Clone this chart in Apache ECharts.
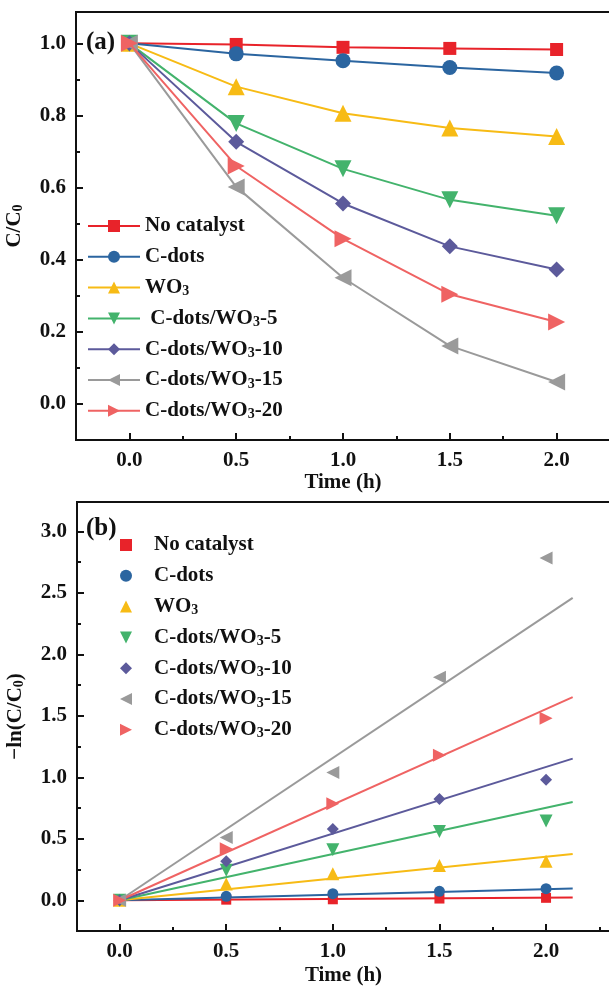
<!DOCTYPE html>
<html>
<head>
<meta charset="utf-8">
<script src="https://cdn.jsdelivr.net/npm/echarts@6/dist/echarts.min.js"></script>
<style>
  html, body { margin: 0; padding: 0; background: #fff; }
  #main { width: 609px; height: 986px; }
</style>
</head>
<body>
<div id="main"></div>
<script>
// sampling times (h)
const times = [0, 0.5, 1.0, 1.5, 2.0];

const seriesNames = ['No catalyst', 'C-dots', 'WO3', 'C-dots/WO3-5', 'C-dots/WO3-10', 'C-dots/WO3-15', 'C-dots/WO3-20'];
const legendLabelsA = ['No catalyst', 'C-dots', 'WO3', ' C-dots/WO3-5', 'C-dots/WO3-10', 'C-dots/WO3-15', 'C-dots/WO3-20'];
const colors = ['#e8232a', '#2b65a0', '#f7bb15', '#43b36c', '#5c5a9b', '#9a9a9a', '#ef6363'];

// panel (a): C/C0
const ratioNoCatalyst = [1.0, 0.997, 0.989, 0.986, 0.983];
const ratioCdots = [1.0, 0.971, 0.952, 0.933, 0.918];
const ratioWO3 = [1.0, 0.880, 0.806, 0.765, 0.742];
const ratioCW5 = [1.0, 0.778, 0.652, 0.566, 0.522];
const ratioCW10 = [1.0, 0.727, 0.556, 0.437, 0.373];
const ratioCW15 = [1.0, 0.602, 0.350, 0.161, 0.061];
const ratioCW20 = [1.0, 0.660, 0.458, 0.304, 0.227];

// panel (b): -ln(C/C0)
const lnNoCatalyst = [0, 0.005, 0.008, 0.014, 0.020];
const lnCdots = [0, 0.032, 0.054, 0.073, 0.094];
const lnWO3 = [0, 0.132, 0.216, 0.282, 0.318];
const lnCW5 = [0, 0.245, 0.412, 0.560, 0.645];
const lnCW10 = [0, 0.318, 0.580, 0.823, 0.980];
const lnCW15 = [0, 0.510, 1.040, 1.815, 2.785];
const lnCW20 = [0, 0.420, 0.785, 1.180, 1.480];

// linear fits through origin: end point of each line
const fitEndX = 2.125;
const fitEndY = [0.022, 0.096, 0.377, 0.800, 1.152, 2.460, 1.653];

// ticks
const xLabelsA = [0, 0.5, 1.0, 1.5, 2.0];
const xMinorA = [0.25, 0.75, 1.25, 1.75];
const yLabelsA = [0, 0.2, 0.4, 0.6, 0.8, 1.0];
const yMinorA = [0.1, 0.3, 0.5, 0.7, 0.9];
const xLabelsB = [0, 0.5, 1.0, 1.5, 2.0];
const xMinorB = [0.25, 0.75, 1.25, 1.75, 2.25];
const yLabelsB = [0, 0.5, 1.0, 1.5, 2.0, 2.5, 3.0];
const yMinorB = [0.25, 0.75, 1.25, 1.75, 2.25, 2.75];

const ratios = [ratioNoCatalyst, ratioCdots, ratioWO3, ratioCW5, ratioCW10, ratioCW15, ratioCW20];
const lnValues = [lnNoCatalyst, lnCdots, lnWO3, lnCW5, lnCW10, lnCW15, lnCW20];
const symbols = ['rect', 'circle', 'triangle', 'triangle', 'diamond', 'triangle', 'triangle'];
const rotations = [0, 0, 0, 180, 0, 90, -90];
// legend icons of panel (b): scatter legends do not take the rotation
const iconsB = ['rect', 'circle', 'triangle', 'path://M0,0L10,0L5,10Z', 'diamond', 'path://M10,0L0,5L10,10Z', 'path://M0,0L10,5L0,10Z'];
const sizesA = [13, 15, 17, 17, 16, 17, 17];
const sizesB = [10, 11, 13, 13, 12, 13, 13];

const font = 'Liberation Serif';
const ink = '#111';
const sub = { fontFamily: font, fontWeight: 'bold', fontSize: 14, color: ink, lineHeight: 10, verticalAlign: 'bottom' };

function richText(s) {
  return s.replace('WO3', 'WO{sub|3}');
}

function majorAxis(dir, gridIndex, min, max, labels, extra) {
  return Object.assign({
    type: 'value',
    gridIndex: gridIndex,
    min: min,
    max: max,
    position: dir === 'x' ? 'bottom' : 'left',
    axisLine: { show: true, onZero: false, lineStyle: { color: ink, width: 2 } },
    axisTick: { show: true, inside: true, length: 7, lineStyle: { color: ink, width: 2 }, customValues: labels },
    axisLabel: {
      customValues: labels,
      formatter: (v) => v.toFixed(1),
      fontFamily: font, fontWeight: 'bold', fontSize: 21, color: ink, margin: 10
    },
    splitLine: { show: false },
    nameTextStyle: { fontFamily: font, fontWeight: 'bold', fontSize: 21, color: ink, rich: { sub: sub } }
  }, extra);
}

function minorAxis(dir, gridIndex, min, max, ticks) {
  return {
    type: 'value',
    gridIndex: gridIndex,
    min: min,
    max: max,
    position: dir === 'x' ? 'bottom' : 'left',
    axisLine: { show: false, onZero: false },
    axisTick: { show: true, inside: true, length: 4, lineStyle: { color: ink, width: 2 }, customValues: ticks },
    axisLabel: { show: false, customValues: ticks },
    splitLine: { show: false }
  };
}

const series = [];
seriesNames.forEach((name, i) => {
  series.push({
    name: name,
    type: 'line',
    xAxisIndex: 0,
    yAxisIndex: 0,
    data: times.map((t, k) => [t, ratios[i][k]]),
    symbol: symbols[i],
    symbolSize: sizesA[i],
    symbolRotate: rotations[i],
    color: colors[i],
    lineStyle: { width: 2, color: colors[i] },
    itemStyle: { color: colors[i] },
    z: 2 + i
  });
});
seriesNames.forEach((name, i) => {
  series.push({
    name: 'fit ' + name,
    type: 'line',
    xAxisIndex: 2,
    yAxisIndex: 2,
    data: [[0, 0], [fitEndX, fitEndY[i]]],
    showSymbol: false,
    color: colors[i],
    lineStyle: { width: 2, color: colors[i] },
    silent: true,
    z: 2
  });
});
seriesNames.forEach((name, i) => {
  series.push({
    name: 'b ' + name,
    type: 'scatter',
    xAxisIndex: 2,
    yAxisIndex: 2,
    data: times.map((t, k) => [t, lnValues[i][k]]),
    symbol: symbols[i],
    symbolSize: sizesB[i],
    symbolRotate: rotations[i],
    itemStyle: { color: colors[i], opacity: 1 },
    z: 3
  });
});

const legendText = { fontFamily: font, fontWeight: 'bold', fontSize: 21, color: ink, lineHeight: 22, rich: { sub: sub } };

const option = {
  animation: false,
  backgroundColor: '#fff',
  grid: [
    { left: 76, top: 12, width: 534, height: 428, outerBoundsMode: 'none', show: true, borderColor: ink, borderWidth: 2, backgroundColor: 'transparent' },
    { left: 77, top: 502, width: 533, height: 429, outerBoundsMode: 'none', show: true, borderColor: ink, borderWidth: 2, backgroundColor: 'transparent' }
  ],
  xAxis: [
    majorAxis('x', 0, -0.25, 2.25, xLabelsA, { name: 'Time (h)', nameLocation: 'middle', nameGap: 31 }),
    minorAxis('x', 0, -0.25, 2.25, xMinorA),
    majorAxis('x', 1, -0.2, 2.3, xLabelsB, { name: 'Time (h)', nameLocation: 'middle', nameGap: 34 }),
    minorAxis('x', 1, -0.2, 2.3, xMinorB)
  ],
  yAxis: [
    majorAxis('y', 0, -0.1, 1.087, yLabelsA, { name: 'C/C{sub|0}', nameLocation: 'middle', nameGap: 51 }),
    minorAxis('y', 0, -0.1, 1.087, yMinorA),
    majorAxis('y', 1, -0.25, 3.24, yLabelsB, { name: '\u2212ln(C/C{sub|0})', nameLocation: 'middle', nameGap: 51 }),
    minorAxis('y', 1, -0.25, 3.24, yMinorB)
  ],
  legend: [
    {
      data: seriesNames,
      orient: 'vertical',
      left: 87,
      top: 215,
      padding: 0,
      itemWidth: 52,
      itemHeight: 15,
      itemGap: 8.8,
      selectedMode: false,
      textStyle: legendText,
      formatter: (name) => richText(legendLabelsA[seriesNames.indexOf(name)])
    },
    {
      data: seriesNames.map((n, i) => ({ name: 'b ' + n, icon: iconsB[i] })),
      orient: 'vertical',
      left: 120,
      top: 534,
      padding: 0,
      itemWidth: 12,
      itemHeight: 12,
      itemGap: 8.8,
      selectedMode: false,
      textStyle: Object.assign({}, legendText, { padding: [0, 0, 0, 17] }),
      formatter: (name) => richText(name.slice(2))
    }
  ],
  graphic: [
    { type: 'text', left: 86, top: 30, style: { text: '(a)', fontFamily: font, fontWeight: 'bold', fontSize: 25, fill: ink } },
    { type: 'text', left: 86, top: 516, style: { text: '(b)', fontFamily: font, fontWeight: 'bold', fontSize: 25, fill: ink } }
  ],
  series: series
};

const myChart = echarts.init(document.getElementById('main'));
myChart.setOption(option);
</script>
</body>
</html>
